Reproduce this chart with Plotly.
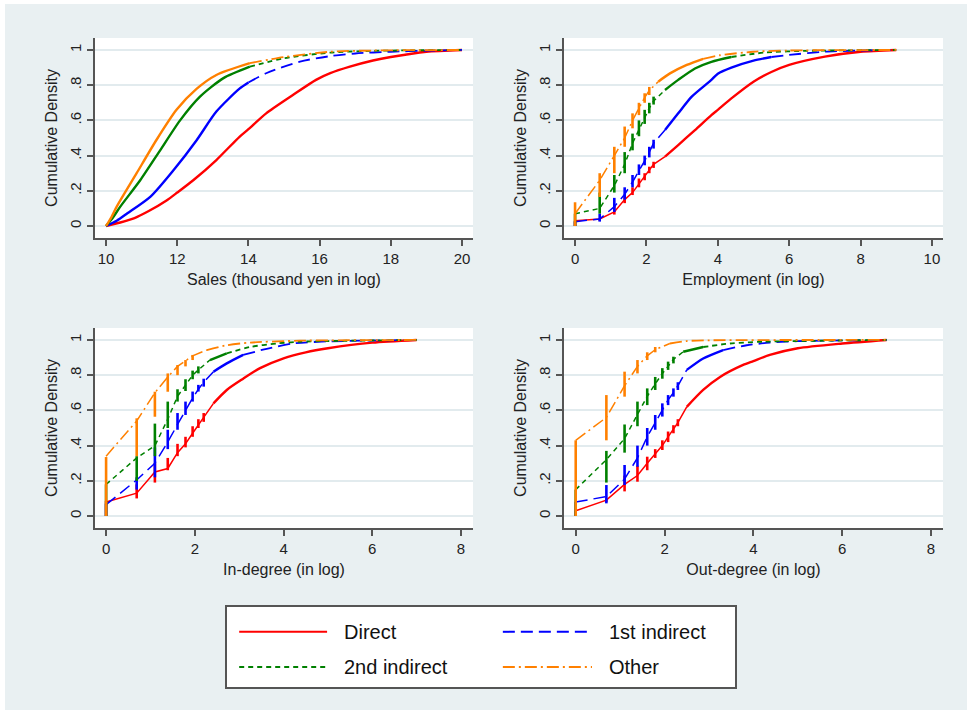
import plotly.graph_objects as go

# ---------------- data ----------------
SERIES = ["Direct", "1st indirect", "2nd indirect", "Other"]
Y_TICKVALS = [0, 0.2, 0.4, 0.6, 0.8, 1]
Y_TICKTEXT = ["0", ".2", ".4", ".6", ".8", "1"]
SALES_TICKS = [10, 12, 14, 16, 18, 20]
EMP_TICKS = [0, 2, 4, 6, 8, 10]
DEG_TICKS = [0, 2, 4, 6, 8]

# Panel 1: Sales (continuous)
SALES_DIRECT_X = [10, 10.4, 10.8, 11.2, 11.7, 12.0, 12.45, 13.1, 13.75, 14.0, 14.5, 15.25, 15.9, 16.3, 16.85, 17.5, 18.0, 19.0, 20.0]
SALES_DIRECT_Y = [0, 0.02, 0.045, 0.085, 0.145, 0.19, 0.26, 0.375, 0.507, 0.55, 0.64, 0.744, 0.83, 0.868, 0.905, 0.94, 0.96, 0.99, 1.0]
SALES_FIRST_X = [10, 10.3, 10.6, 11.25, 11.9, 12.55, 13.1, 13.75, 14.0, 14.5, 15.45, 16.3, 17.0, 18.0, 19.0, 20.0]
SALES_FIRST_Y = [0, 0.03, 0.072, 0.167, 0.318, 0.489, 0.65, 0.78, 0.815, 0.868, 0.934, 0.965, 0.98, 0.99, 0.996, 1.0]
SALES_SECOND_X = [10, 10.2, 10.4, 10.96, 11.52, 12.08, 12.64, 13.3, 14.04, 15.0, 16.3, 17.5, 20.0]
SALES_SECOND_Y = [0, 0.05, 0.11, 0.26, 0.43, 0.60, 0.735, 0.84, 0.905, 0.953, 0.985, 0.995, 1.0]
SALES_OTHER_X = [10, 10.15, 10.3, 10.86, 11.42, 11.98, 12.55, 13.1, 14.04, 15.0, 16.3, 17.5, 20.0]
SALES_OTHER_Y = [0, 0.05, 0.11, 0.30, 0.49, 0.66, 0.78, 0.858, 0.925, 0.96, 0.99, 0.997, 1.0]

# x positions of the discrete jumps: ln(1), ln(2), ..., ln(10)
LOG_COUNTS = [0.0, 0.69, 1.10, 1.39, 1.61, 1.79, 1.95, 2.08, 2.20, 2.30]

# Panel 2: Employment
EMP_DIRECT_LO = [0.0, 0.03, 0.065, 0.13, 0.176, 0.22, 0.26, 0.30, 0.33]
EMP_DIRECT_HI = [0.03, 0.045, 0.12, 0.176, 0.22, 0.27, 0.30, 0.337, 0.365]
EMP_DIRECT_MID = [0.03, 0.04, 0.08, 0.15, 0.19, 0.24, 0.28, 0.32, 0.35]
EMP_DIRECT_X = [2.52, 2.89, 3.36, 3.82, 4.0, 4.38, 5.0, 5.5, 6.0, 7.0, 8.0, 9.0]
EMP_DIRECT_Y = [0.394, 0.46, 0.545, 0.63, 0.66, 0.725, 0.82, 0.875, 0.915, 0.962, 0.99, 1.0]
EMP_FIRST_LO = [0.0, 0.025, 0.08, 0.15, 0.22, 0.29, 0.345, 0.39, 0.44]
EMP_FIRST_HI = [0.025, 0.07, 0.16, 0.22, 0.29, 0.35, 0.40, 0.45, 0.49]
EMP_FIRST_MID = [0.025, 0.04, 0.11, 0.18, 0.25, 0.31, 0.37, 0.42, 0.47]
EMP_FIRST_X = [2.52, 2.89, 3.27, 3.82, 4.0, 4.38, 5.0, 5.5, 6.0, 7.0, 8.0, 9.0]
EMP_FIRST_Y = [0.545, 0.64, 0.735, 0.83, 0.865, 0.90, 0.94, 0.96, 0.972, 0.99, 0.997, 1.0]
EMP_SECOND_LO = [0.0, 0.07, 0.19, 0.30, 0.43, 0.51, 0.58, 0.64, 0.69]
EMP_SECOND_HI = [0.07, 0.19, 0.29, 0.42, 0.525, 0.60, 0.66, 0.70, 0.735]
EMP_SECOND_MID = [0.07, 0.10, 0.23, 0.35, 0.47, 0.55, 0.62, 0.67, 0.71]
EMP_SECOND_X = [2.52, 2.89, 3.36, 3.82, 4.38, 5.3, 6.5, 9.0]
EMP_SECOND_Y = [0.773, 0.83, 0.895, 0.933, 0.96, 0.985, 0.995, 1.0]
EMP_OTHER_LO = [0.0, 0.165, 0.30, 0.45, 0.555, 0.63, 0.70, 0.744]
EMP_OTHER_HI = [0.135, 0.30, 0.45, 0.565, 0.64, 0.70, 0.754, 0.79]
EMP_OTHER_MID = [0.07, 0.26, 0.40, 0.50, 0.60, 0.67, 0.73, 0.77]
EMP_OTHER_X = [2.33, 2.66, 3.13, 3.59, 4.06, 5.0, 6.0, 9.0]
EMP_OTHER_Y = [0.82, 0.867, 0.915, 0.95, 0.97, 0.99, 0.997, 1.0]

# Panel 3: In-degree
IN_DIRECT_LO = [0.0, 0.10, 0.19, 0.26, 0.34, 0.39, 0.45, 0.50, 0.535]
IN_DIRECT_HI = [0.085, 0.18, 0.30, 0.33, 0.41, 0.45, 0.51, 0.55, 0.585]
IN_DIRECT_MID = [0.08, 0.13, 0.25, 0.27, 0.36, 0.41, 0.47, 0.52, 0.56]
IN_DIRECT_X = [2.42, 2.72, 3.09, 3.47, 4.0, 4.5, 5.0, 6.0, 7.0]
IN_DIRECT_Y = [0.64, 0.716, 0.78, 0.84, 0.896, 0.93, 0.953, 0.985, 1.0]
IN_FIRST_LO = [0.0, 0.15, 0.22, 0.38, 0.49, 0.574, 0.65, 0.707, 0.735]
IN_FIRST_HI = [0.07, 0.22, 0.39, 0.49, 0.585, 0.65, 0.707, 0.745, 0.78]
IN_FIRST_MID = [0.065, 0.205, 0.30, 0.42, 0.52, 0.60, 0.67, 0.72, 0.76]
IN_FIRST_X = [2.42, 2.72, 3.09, 3.62, 4.22, 5.0, 7.0]
IN_FIRST_Y = [0.82, 0.867, 0.915, 0.95, 0.98, 0.992, 1.0]
IN_SECOND_LO = [0.0, 0.20, 0.34, 0.50, 0.65, 0.71, 0.777, 0.81]
IN_SECOND_HI = [0.18, 0.34, 0.525, 0.65, 0.72, 0.777, 0.826, 0.85]
IN_SECOND_MID = [0.18, 0.33, 0.40, 0.55, 0.68, 0.74, 0.80, 0.83]
IN_SECOND_X = [2.34, 2.72, 3.24, 3.84, 4.37, 7.0]
IN_SECOND_Y = [0.886, 0.924, 0.96, 0.98, 0.99, 1.0]
IN_OTHER_LO = [0.0, 0.34, 0.564, 0.706, 0.80, 0.85, 0.886]
IN_OTHER_HI = [0.335, 0.555, 0.706, 0.81, 0.858, 0.886, 0.915]
IN_OTHER_MID = [0.34, 0.54, 0.70, 0.79, 0.85, 0.88, 0.91]
IN_OTHER_X = [2.27, 2.72, 3.24, 4.37, 7.0]
IN_OTHER_Y = [0.943, 0.97, 0.985, 0.996, 1.0]

# Panel 4: Out-degree
OUT_DIRECT_LO = [0.0, 0.08, 0.14, 0.195, 0.26, 0.33, 0.375, 0.42, 0.47, 0.51]
OUT_DIRECT_HI = [0.03, 0.10, 0.23, 0.285, 0.337, 0.38, 0.43, 0.48, 0.516, 0.55]
OUT_DIRECT_MID = [0.03, 0.09, 0.18, 0.23, 0.30, 0.35, 0.40, 0.45, 0.49, 0.53]
OUT_DIRECT_X = [2.5, 2.87, 3.25, 3.77, 4.0, 4.37, 5.0, 6.0, 7.0]
OUT_DIRECT_Y = [0.62, 0.716, 0.79, 0.858, 0.88, 0.915, 0.953, 0.98, 1.0]
OUT_FIRST_LO = [0.0, 0.072, 0.176, 0.28, 0.40, 0.49, 0.565, 0.63, 0.678, 0.716]
OUT_FIRST_HI = [0.08, 0.176, 0.29, 0.40, 0.50, 0.574, 0.64, 0.687, 0.725, 0.76]
OUT_FIRST_MID = [0.08, 0.11, 0.21, 0.33, 0.45, 0.53, 0.60, 0.66, 0.70, 0.74]
OUT_FIRST_X = [2.5, 2.87, 3.32, 3.85, 4.37, 5.0, 7.0]
OUT_FIRST_Y = [0.83, 0.895, 0.943, 0.97, 0.985, 0.993, 1.0]
OUT_SECOND_LO = [0.0, 0.19, 0.36, 0.51, 0.63, 0.716, 0.78, 0.83, 0.867]
OUT_SECOND_HI = [0.15, 0.37, 0.52, 0.65, 0.725, 0.79, 0.84, 0.877, 0.905]
OUT_SECOND_MID = [0.15, 0.32, 0.44, 0.58, 0.68, 0.75, 0.81, 0.85, 0.89]
OUT_SECOND_X = [2.42, 2.87, 3.47, 4.22, 7.0]
OUT_SECOND_Y = [0.933, 0.96, 0.98, 0.99, 1.0]
OUT_OTHER_LO = [0.0, 0.43, 0.678, 0.81, 0.886, 0.93]
OUT_OTHER_HI = [0.43, 0.687, 0.82, 0.886, 0.93, 0.96]
OUT_OTHER_MID = [0.43, 0.56, 0.74, 0.85, 0.91, 0.945]
OUT_OTHER_X = [2.12, 2.5, 3.0, 7.0]
OUT_OTHER_Y = [0.98, 0.994, 0.998, 1.0]

# ---------------- styles ----------------
FONT = "Liberation Sans, Arial, Helvetica, sans-serif"
COLORS = {"Direct": "#ff0000", "1st indirect": "#0000ff", "2nd indirect": "#008000", "Other": "#ff8000"}
DASHES = {"Direct": "solid", "1st indirect": "12px,6px", "2nd indirect": "5px,4px", "Other": "12px,4px,2px,4px"}
BG = "#e9f0f2"
AXC = "#555555"
TXT = "#222222"
W_DENSE, W_THIN, W_BAR = 2.4, 1.5, 2.6
SMOOTH = 0.7

fig = go.Figure()


def add_curve(ax, name, xs, ys, solid_until=None):
    """Continuous part: drawn solid where dense, with its pattern in the tail."""
    xa, ya = "x" + ax, "y" + ax
    c, d = COLORS[name], DASHES[name]
    if d == "solid" or solid_until is None:
        fig.add_trace(go.Scatter(x=xs, y=ys, mode="lines", xaxis=xa, yaxis=ya,
                                 line=dict(color=c, width=W_DENSE, shape="spline", smoothing=SMOOTH),
                                 showlegend=False, hoverinfo="skip"))
        return
    k = sum(1 for v in xs if v <= solid_until)
    if k >= 2:
        fig.add_trace(go.Scatter(x=xs[:k], y=ys[:k], mode="lines", xaxis=xa, yaxis=ya,
                                 line=dict(color=c, width=W_DENSE, shape="spline", smoothing=SMOOTH),
                                 showlegend=False, hoverinfo="skip"))
    s = max(k - 1, 0)
    fig.add_trace(go.Scatter(x=xs[s:], y=ys[s:], mode="lines", xaxis=xa, yaxis=ya,
                             line=dict(color=c, width=W_THIN + 0.3, dash=d, shape="spline", smoothing=SMOOTH),
                             showlegend=False, hoverinfo="skip"))


def add_discrete(ax, name, lo, hi, mid, xs, ys, solid_until=None):
    xa, ya = "x" + ax, "y" + ax
    c, d = COLORS[name], DASHES[name]
    n = len(lo)
    bx = LOG_COUNTS[:n]
    # connecting segments between the tie groups
    fig.add_trace(go.Scatter(x=list(bx) + [xs[0]], y=list(mid) + [ys[0]], mode="lines", xaxis=xa, yaxis=ya,
                             line=dict(color=c, width=W_THIN, dash=d), showlegend=False, hoverinfo="skip"))
    # vertical jumps at the tied values
    vx, vy = [], []
    for x, a, b in zip(bx, lo, hi):
        vx += [x, x, None]
        vy += [a, b, None]
    fig.add_trace(go.Scatter(x=vx, y=vy, mode="lines", xaxis=xa, yaxis=ya,
                             line=dict(color=c, width=W_BAR), showlegend=False, hoverinfo="skip"))
    add_curve(ax, name, xs, ys, solid_until)


# Panel 1
add_curve("", "Direct", SALES_DIRECT_X, SALES_DIRECT_Y)
add_curve("", "1st indirect", SALES_FIRST_X, SALES_FIRST_Y, 14.3)
add_curve("", "2nd indirect", SALES_SECOND_X, SALES_SECOND_Y, 14.6)
add_curve("", "Other", SALES_OTHER_X, SALES_OTHER_Y, 14.2)
# Panel 2
add_discrete("2", "Direct", EMP_DIRECT_LO, EMP_DIRECT_HI, EMP_DIRECT_MID, EMP_DIRECT_X, EMP_DIRECT_Y)
add_discrete("2", "1st indirect", EMP_FIRST_LO, EMP_FIRST_HI, EMP_FIRST_MID, EMP_FIRST_X, EMP_FIRST_Y, 5.5)
add_discrete("2", "2nd indirect", EMP_SECOND_LO, EMP_SECOND_HI, EMP_SECOND_MID, EMP_SECOND_X, EMP_SECOND_Y, 4.4)
add_discrete("2", "Other", EMP_OTHER_LO, EMP_OTHER_HI, EMP_OTHER_MID, EMP_OTHER_X, EMP_OTHER_Y, 3.6)
# Panel 3
add_discrete("3", "Direct", IN_DIRECT_LO, IN_DIRECT_HI, IN_DIRECT_MID, IN_DIRECT_X, IN_DIRECT_Y)
add_discrete("3", "1st indirect", IN_FIRST_LO, IN_FIRST_HI, IN_FIRST_MID, IN_FIRST_X, IN_FIRST_Y, 3.6)
add_discrete("3", "2nd indirect", IN_SECOND_LO, IN_SECOND_HI, IN_SECOND_MID, IN_SECOND_X, IN_SECOND_Y, 3.0)
add_discrete("3", "Other", IN_OTHER_LO, IN_OTHER_HI, IN_OTHER_MID, IN_OTHER_X, IN_OTHER_Y, 2.3)
# Panel 4
add_discrete("4", "Direct", OUT_DIRECT_LO, OUT_DIRECT_HI, OUT_DIRECT_MID, OUT_DIRECT_X, OUT_DIRECT_Y)
add_discrete("4", "1st indirect", OUT_FIRST_LO, OUT_FIRST_HI, OUT_FIRST_MID, OUT_FIRST_X, OUT_FIRST_Y, 3.6)
add_discrete("4", "2nd indirect", OUT_SECOND_LO, OUT_SECOND_HI, OUT_SECOND_MID, OUT_SECOND_X, OUT_SECOND_Y, 3.0)
add_discrete("4", "Other", OUT_OTHER_LO, OUT_OTHER_HI, OUT_OTHER_MID, OUT_OTHER_X, OUT_OTHER_Y, 2.0)

# ---------------- legend (drawn in its own small axes) ----------------
LEG_COL_X = [(0.024, 0.197), (0.543, 0.7185)]
LEG_ROW_Y = [0.69, 0.25]
LEG_POS = {"Direct": (0, 0), "1st indirect": (1, 0), "2nd indirect": (0, 1), "Other": (1, 1)}
for name in SERIES:
    ci, ri = LEG_POS[name]
    x0, x1 = LEG_COL_X[ci]
    yy = LEG_ROW_Y[ri]
    fig.add_trace(go.Scatter(x=[x0, x1], y=[yy, yy], mode="lines", xaxis="x5", yaxis="y5",
                             line=dict(color=COLORS[name], width=2.0,
                                       dash=None if DASHES[name] == "solid" else DASHES[name]),
                             showlegend=False, hoverinfo="skip"))
    fig.add_annotation(x=x1 + 0.03, y=yy, xref="x5", yref="y5", text=name, showarrow=False,
                       xanchor="left", yanchor="middle", font=dict(size=20, color="#111111", family=FONT))


# ---------------- axes ----------------
def xax(domain, rng, ticks, title, anchor):
    return dict(domain=domain, range=rng, anchor=anchor, tickvals=ticks, ticktext=[str(t) for t in ticks],
                showline=True, linecolor=AXC, linewidth=1.5, ticks="outside", ticklen=6, tickwidth=1.5,
                tickcolor=AXC, tickfont=dict(size=15, color=TXT, family=FONT), showgrid=False,
                zeroline=False, fixedrange=True,
                title=dict(text=title, font=dict(size=16, color=TXT, family=FONT), standoff=8))


def yax(domain, anchor):
    return dict(domain=domain, range=[-0.068, 1.068], anchor=anchor, tickvals=Y_TICKVALS, ticktext=Y_TICKTEXT,
                tickangle=-90, showline=True, linecolor=AXC, linewidth=1.5, ticks="outside", ticklen=6,
                tickwidth=1.5, tickcolor=AXC, tickfont=dict(size=15, color=TXT, family=FONT),
                showgrid=True, gridcolor="#e2ebee", gridwidth=1.5, zeroline=False, fixedrange=True,
                title=dict(text="Cumulative Density", font=dict(size=16, color=TXT, family=FONT), standoff=6))


W, H = 967, 710
LX = [95 / W, 473 / W]
RX = [564 / W, 943 / W]
TY = [1 - 238 / H, 1 - 38 / H]
BY = [1 - 528 / H, 1 - 328 / H]

fig.update_layout(
    width=W, height=H,
    margin=dict(l=0, r=0, t=0, b=0),
    paper_bgcolor=BG, plot_bgcolor="white",
    font=dict(family=FONT, color=TXT),
    showlegend=False,
    xaxis=xax(LX, [9.69, 20.31], SALES_TICKS, "Sales (thousand yen in log)", "y"),
    yaxis=yax(TY, "x"),
    xaxis2=xax(RX, [-0.31, 10.31], EMP_TICKS, "Employment (in log)", "y2"),
    yaxis2=yax(TY, "x2"),
    xaxis3=xax(LX, [-0.25, 8.27], DEG_TICKS, "In-degree (in log)", "y3"),
    yaxis3=yax(BY, "x3"),
    xaxis4=xax(RX, [-0.264, 8.27], DEG_TICKS, "Out-degree (in log)", "y4"),
    yaxis4=yax(BY, "x4"),
    xaxis5=dict(domain=[227 / W, 735 / W], range=[0, 1], anchor="y5", showline=True, mirror=True,
                linecolor=AXC, linewidth=2, showticklabels=False, ticks="", showgrid=False,
                zeroline=False, fixedrange=True),
    yaxis5=dict(domain=[1 - 687 / H, 1 - 607 / H], range=[0, 1], anchor="x5", showline=True, mirror=True,
                linecolor=AXC, linewidth=2, showticklabels=False, ticks="", showgrid=False,
                zeroline=False, fixedrange=True),
    shapes=[
        dict(type="rect", xref="paper", yref="paper", x0=0, x1=1, y0=1 - 4 / H, y1=1,
             fillcolor="white", line=dict(width=0), layer="below"),
        dict(type="rect", xref="paper", yref="paper", x0=0, x1=5 / W, y0=0, y1=1,
             fillcolor="white", line=dict(width=0), layer="below"),
    ],
)

fig.write_html("out.html", config={"displayModeBar": False},
               post_script="document.body.style.margin='0';document.body.style.overflow='hidden';")
